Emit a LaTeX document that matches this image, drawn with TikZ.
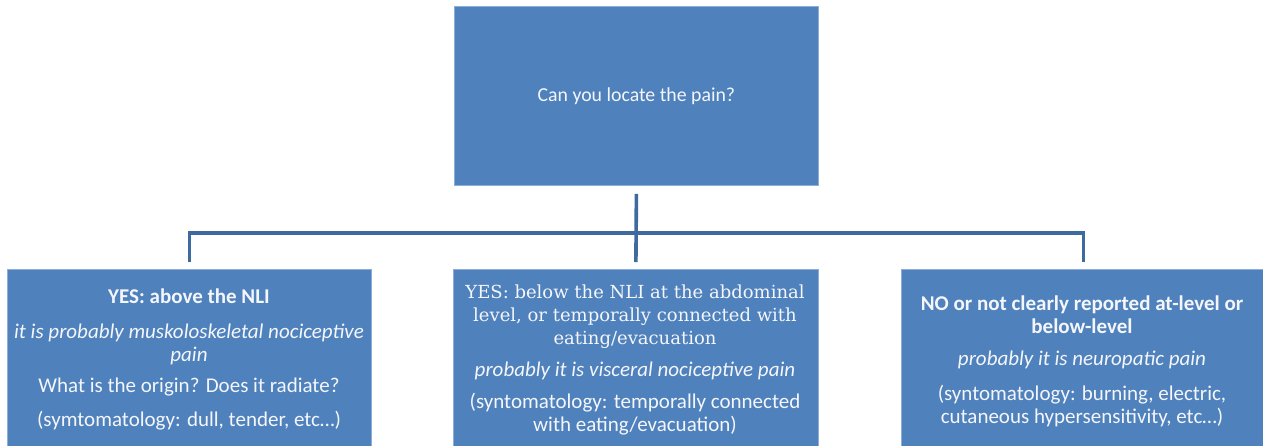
\documentclass[tikz,border=0pt]{standalone}
\usepackage{fontspec}
\setmainfont{Carlito}
\newfontfamily\cambriafont{DejaVu Serif}
\definecolor{boxblue}{HTML}{4F81BD}
\definecolor{boxedge}{HTML}{8DAEDB}
\definecolor{connblue}{HTML}{3F6A9E}
\definecolor{txt}{HTML}{F4F6FA}
\tikzset{
  box/.style={draw=boxedge, line width=0.8pt, fill=boxblue, rectangle, inner sep=0pt},
  boxtext/.style={text=txt, align=center, inner sep=0pt, anchor=north,
    font=\fontsize{21}{23}\selectfont},
  conn/.style={draw=connblue, line width=3.6pt}
}
\newcommand{\serifpart}[1]{{\cambriafont\fontsize{18}{22}\selectfont #1}}
\begin{document}
\begin{tikzpicture}[x=1pt,y=-1pt]
\useasboundingbox (0,0) rectangle (1263,445);
% boxes
\node[box, minimum width=364pt, minimum height=179pt, anchor=north west] (T) at (454,6) {};
\node[box, minimum width=364pt, minimum height=178pt, anchor=north west] (L) at (7,269) {};
\node[box, minimum width=365pt, minimum height=178pt, anchor=north west] (M) at (453,269) {};
\node[box, minimum width=364pt, minimum height=178pt, anchor=north west] (R) at (901,269) {};
% texts
\node[boxtext, anchor=center, font=\fontsize{19.8}{23}\selectfont] (Tt) at (T.center) {Can you locate the pain?};
\node[boxtext] (Lt) at (189,289) {\textbf{YES: above the NLI}\\[12pt]
  \textit{it is probably muskoloskeletal nociceptive}\\
  \textit{pain}\\[8pt]
  What is the origin? Does it radiate?\\[11pt]
  (symtomatology: dull, tender, etc…)};
\node[boxtext] (Mt) at (635,285) {\serifpart{YES: below the NLI at the abdominal}\\
  \serifpart{level, or temporally connected with}\\
  \serifpart{eating/evacuation}\\[9pt]
  \textit{probably it is visceral nociceptive pain}\\[9pt]
  (syntomatology: temporally connected\\
  with eating/evacuation)};
\node[boxtext] (Rt) at (1082,296) {\textbf{NO or not clearly reported at-level or}\\
  \textbf{below-level}\\[9pt]
  \textit{probably it is neuropatic pain}\\[12pt]
  (syntomatology: burning, electric,\\
  cutaneous hypersensitivity, etc…)};
% connectors
\coordinate (J) at ([yshift=-47pt]T.south);
\draw[conn] ([yshift=-8pt]T.south) -- ([yshift=7pt]M.north);
\draw[conn] ([yshift=7pt]L.north) |- (J) -| ([yshift=7pt]R.north);
\end{tikzpicture}
\end{document}
